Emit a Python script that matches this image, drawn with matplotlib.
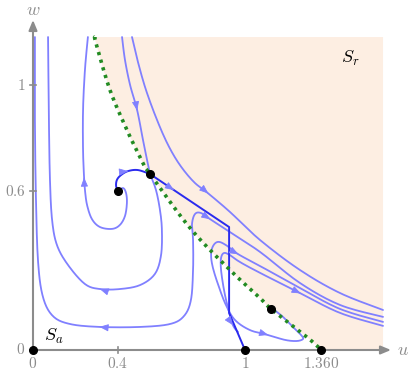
import numpy as np
import matplotlib.pyplot as plt

plt.rcParams['mathtext.fontset'] = 'cm'

# ---- data (u, w) ----
green_u = [0.292, 0.297, 0.363, 0.443, 0.472, 0.528, 0.552, 0.741, 0.929, 1.071, 1.123, 1.292, 1.360]
green_w = [1.181, 1.158, 0.981, 0.830, 0.781, 0.691, 0.664, 0.460, 0.302, 0.196, 0.155, 0.049, 0.0]

# outer loop
loop_a_u = [0.009, 0.009, 0.014, 0.024, 0.047, 0.094, 0.175, 0.316, 0.505, 0.646, 0.712, 0.745,
            0.755, 0.755, 0.750, 0.764, 0.792, 0.835, 0.929, 1.071, 1.259, 1.448, 1.651]
loop_a_w = [1.181, 0.868, 0.566, 0.332, 0.200, 0.128, 0.098, 0.087, 0.087, 0.098, 0.128, 0.189,
            0.302, 0.415, 0.475, 0.513, 0.517, 0.494, 0.445, 0.370, 0.253, 0.170, 0.125]

# loop leaving the saddle downwards
loop_b_u = [0.552, 0.580, 0.599, 0.608, 0.604, 0.575, 0.505, 0.410, 0.316, 0.245, 0.165, 0.113,
            0.090, 0.080, 0.075, 0.071]
loop_b_w = [0.664, 0.604, 0.528, 0.453, 0.358, 0.287, 0.245, 0.230, 0.230, 0.249, 0.321, 0.396,
            0.491, 0.642, 0.868, 1.181]

# spiral out of the focus
spiral_u = [0.401, 0.425, 0.439, 0.443, 0.434, 0.410, 0.373, 0.316, 0.278, 0.255, 0.245, 0.241,
            0.236, 0.236, 0.245, 0.259]
spiral_w = [0.600, 0.611, 0.592, 0.555, 0.506, 0.472, 0.457, 0.464, 0.494, 0.547, 0.604, 0.649,
            0.755, 0.906, 1.057, 1.181]

# stable manifold coming from the top
top_u = [0.420, 0.434, 0.458, 0.491, 0.519, 0.538, 0.552]
top_w = [1.181, 1.094, 1.000, 0.906, 0.792, 0.717, 0.664]

# upper curve in S_r
upper_u = [0.467, 0.495, 0.533, 0.585, 0.637, 0.693, 0.759, 0.825, 0.929, 1.071, 1.259, 1.448, 1.651]
upper_w = [1.181, 1.087, 0.981, 0.868, 0.774, 0.698, 0.634, 0.592, 0.521, 0.415, 0.302, 0.215, 0.151]

# curve ending in the lower point
loop_c_u = [1.127, 1.175, 1.226, 1.264, 1.274, 1.245, 1.189, 1.108, 1.024, 0.953, 0.910, 0.877,
            0.849, 0.840, 0.849, 0.873, 0.910, 0.967, 1.071, 1.259, 1.448, 1.651]
loop_c_w = [0.158, 0.128, 0.087, 0.057, 0.042, 0.034, 0.038, 0.057, 0.075, 0.113, 0.170, 0.238,
            0.309, 0.358, 0.392, 0.408, 0.396, 0.362, 0.317, 0.234, 0.155, 0.106]

loop_d_u = [1.651, 1.448, 1.259, 1.071, 0.976, 0.929, 0.901, 0.887, 0.887, 0.901, 0.920, 0.943, 0.967]
loop_d_w = [0.091, 0.140, 0.215, 0.291, 0.332, 0.358, 0.366, 0.347, 0.302, 0.226, 0.158, 0.094, 0.068]

# dark trajectories
focus_saddle_u = [0.401, 0.392, 0.396, 0.415, 0.448, 0.495, 0.552]
focus_saddle_w = [0.600, 0.619, 0.642, 0.660, 0.675, 0.679, 0.664]
saddle_out_u = [0.552, 0.660, 0.925, 0.925, 1.0]
saddle_out_w = [0.664, 0.606, 0.464, 0.140, 0.0]

eq_u = [0, 1, 1.360, 0.401, 0.552, 1.123]
eq_w = [0, 0, 0, 0.600, 0.664, 0.155]

u_ticks = [0, 0.4, 1, 1.360]
u_ticklabels = ['0', '0.4', '1', '1.360']
w_ticks = [0, 0.6, 1]
w_ticklabels = ['0', '0.6', '1']

w_top = 1.181
u_right = 1.651

light = '#8080ff'
dark = '#2b2bee'
axis_col = '#8c8c8c'


def smooth(u, w, n=12):
    # catmull-rom through the read points, only for drawing
    p = np.column_stack([u, w])
    p = np.vstack([p[0], p, p[-1]])
    out = []
    for k in range(1, len(p) - 2):
        p0, p1, p2, p3 = p[k - 1], p[k], p[k + 1], p[k + 2]
        for t in np.linspace(0, 1, n, endpoint=False):
            out.append(0.5 * (2 * p1 + (-p0 + p2) * t + (2 * p0 - 5 * p1 + 4 * p2 - p3) * t ** 2
                              + (-p0 + 3 * p1 - 3 * p2 + p3) * t ** 3))
    out.append(p[-2])
    out = np.array(out)
    return out[:, 0], out[:, 1]


fig = plt.figure(figsize=(4.16, 3.75), dpi=100)
ax = fig.add_axes([0, 0, 1, 1])
ax.set_xlim(-33 / 212, 383 / 212)
ax.set_ylim(-25 / 265, 350 / 265)
ax.axis('off')

gu, gw = smooth(green_u, green_w)
# shaded S_r region
ax.fill(list(gu) + [u_right, u_right], list(gw) + [0, w_top], color='#fdeee2', lw=0, zorder=0)

curves = [(loop_a_u, loop_a_w), (loop_b_u, loop_b_w), (spiral_u, spiral_w), (top_u, top_w),
          (upper_u, upper_w), (loop_c_u, loop_c_w), (loop_d_u, loop_d_w)]
for u, w in curves:
    su, sw = smooth(u, w)
    ax.plot(su, sw, color=light, lw=1.3, solid_capstyle='round', zorder=2)

ax.plot(*smooth(focus_saddle_u, focus_saddle_w), color=dark, lw=1.4, zorder=3)
ax.plot(saddle_out_u, saddle_out_w, color=dark, lw=1.4, zorder=3)


def put_arrow(u, w, i, rev=False):
    j = i - 1 if rev else i + 1
    p0 = (u[i], w[i])
    p1 = (u[i] + 0.02 * (u[j] - u[i]), w[i] + 0.02 * (w[j] - w[i]))
    ax.annotate('', xy=p1, xytext=p0,
                arrowprops=dict(arrowstyle='-|>,head_length=0.55,head_width=0.22',
                                color=light, lw=0.6, shrinkA=0, shrinkB=0), zorder=4)


put_arrow(loop_a_u, loop_a_w, 7, rev=True)
put_arrow(loop_a_u, loop_a_w, 17)
put_arrow(loop_b_u, loop_b_w, 8)
put_arrow(spiral_u, spiral_w, 11)
put_arrow(top_u, top_w, 3)
put_arrow(upper_u, upper_w, 7)
put_arrow(loop_c_u, loop_c_w, 7, rev=True)
put_arrow(loop_c_u, loop_c_w, 17)
put_arrow(loop_d_u, loop_d_w, 2, rev=True)
put_arrow(loop_d_u, loop_d_w, 11)
put_arrow(focus_saddle_u, focus_saddle_w, 4)
put_arrow(saddle_out_u, saddle_out_w, 1)

# separatrix between S_a and S_r
ax.plot(gu, gw, color='#228b22', lw=2.6, linestyle=(0, (0.9, 1.3)), zorder=5)

# axes with arrow heads
ax.annotate('', xy=(358 / 212, 0), xytext=(0, 0),
            arrowprops=dict(arrowstyle='-|>,head_length=0.6,head_width=0.25', color=axis_col,
                            lw=1.5, shrinkA=0, shrinkB=0), zorder=6)
ax.annotate('', xy=(0, 330 / 265), xytext=(0, 0),
            arrowprops=dict(arrowstyle='-|>,head_length=0.6,head_width=0.25', color=axis_col,
                            lw=1.5, shrinkA=0, shrinkB=0), zorder=6)
for t, lab in zip(u_ticks, u_ticklabels):
    ax.plot([t, t], [-0.012, 0.012], color=axis_col, lw=1.2, zorder=6)
    ax.text(t, -0.052, '$' + lab + '$', color=axis_col, fontsize=11, ha='center', va='center')
for t, lab in zip(w_ticks, w_ticklabels):
    ax.plot([-0.014, 0.014], [t, t], color=axis_col, lw=1.2, zorder=6)
    ax.text(-0.035, t, '$' + lab + '$', color=axis_col, fontsize=11, ha='right', va='center')
ax.text(370 / 212, 0, '$u$', color=axis_col, fontsize=13, ha='center', va='center')
ax.text(0, 340 / 265, '$w$', color=axis_col, fontsize=13, ha='center', va='center')

ax.text(1.495, 1.10, '$S_r$', fontsize=13, ha='center', va='center')
ax.text(0.10, 0.05, '$S_a$', fontsize=13, ha='center', va='center')

ax.plot(eq_u, eq_w, 'o', color='black', ms=5.5, zorder=7, clip_on=False)

plt.savefig('out.png', dpi=100)
